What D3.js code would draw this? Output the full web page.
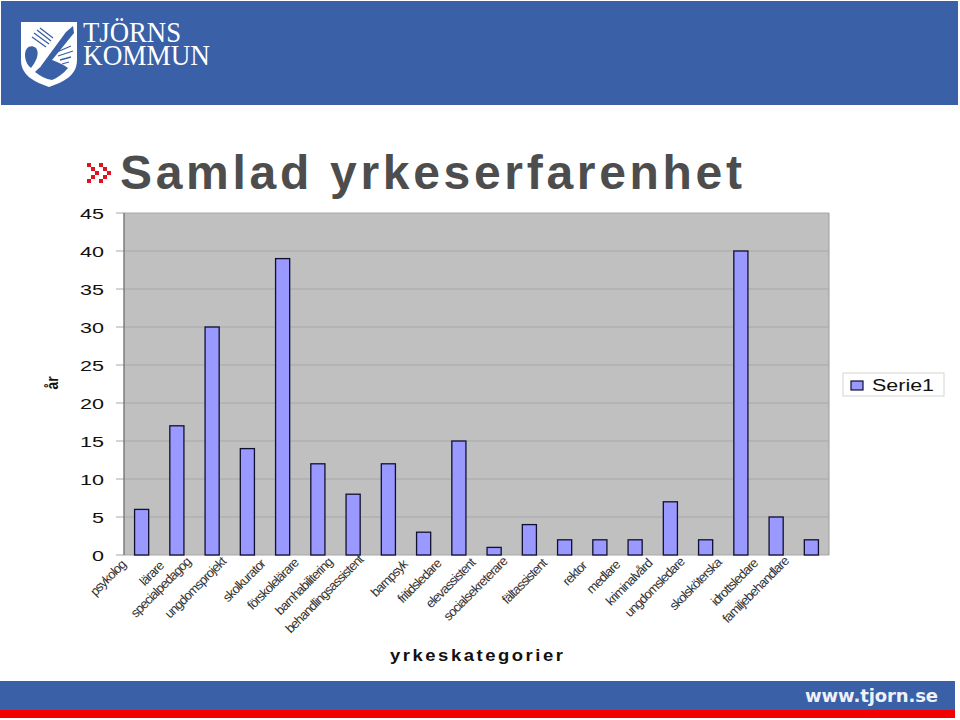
<!DOCTYPE html>
<html>
<head>
<meta charset="utf-8">
<script src="https://cdnjs.cloudflare.com/ajax/libs/d3/7.8.5/d3.min.js"></script>
<style>
  html, body { margin: 0; padding: 0; background: #fff; }
  svg { display: block; }
  text { font-family: "Liberation Sans", Arial, sans-serif; }
</style>
</head>
<body>
<svg class="chart" width="960" height="720"></svg>
<script>
var categories = ["psykolog", "lärare", "specialpedagog", "ungdomsprojekt", "skolkurator",
  "förskolelärare", "barnhabilitering", "behandlingsassistent", "barnpsyk", "fritidsledare",
  "elevassistent", "socialsekreterare", "fältassistent", "rektor", "medlare",
  "kriminalvård", "ungdomsledare", "skolsköterska", "idrottsledare", "familjebehandlare"];
var values = [6, 17, 30, 14, 39, 12, 8, 12, 3, 15, 1, 4, 2, 2, 2, 7, 2, 40, 5, 2];
var yTicks = [0, 5, 10, 15, 20, 25, 30, 35, 40, 45];

var svg = d3.select(".chart");
var blue = "#3a60a8";

// page furniture: header and footer bands
svg.append("rect").attr("x", 1).attr("y", 1).attr("width", 957).attr("height", 104).attr("fill", blue);
svg.append("rect").attr("x", 0).attr("y", 681).attr("width", 955).attr("height", 29).attr("fill", blue);
svg.append("rect").attr("x", 0).attr("y", 710).attr("width", 955).attr("height", 8).attr("fill", "#f50000");

svg.append("text").attr("x", 805).attr("y", 702)
  .attr("font-size", 18).attr("font-weight", "bold")
  .attr("fill", "#eef2f8").style("font-family", "'DejaVu Sans', sans-serif").attr("textLength", 133)
  .text("www.tjorn.se");

// logo
var logo = svg.append("g").attr("transform", "translate(21,22)");
logo.append("path")
  .attr("d", "M0,0 H56 V38 C56,54 42,60 28,65 C14,60 0,54 0,38 Z")
  .attr("fill", "#fff");
logo.append("path")
  .attr("d", "M4,33 C4,25 10,22 15,26 C19,31 15,40 10,46 C6,43 4,38 4,33 Z")
  .attr("fill", blue);
logo.append("path")
  .attr("d", "M14,50 C20,44 26,39 31,38 C37,40 43,43 47,46 C42,52 36,56 31,58 C25,57 19,54 14,50 Z")
  .attr("fill", blue);
logo.append("path")
  .attr("d", "M20,44 L45,10 L52,4 L53,11 L27,43 L23,47 Z")
  .attr("fill", blue);
logo.append("path")
  .attr("d", "M13,11 L28,22 M16,8 L30,19 M19,6 L32,16 M11,15 L25,25 M36,30 L50,24 M37,34 L52,29 M39,38 L50,35 M41,42 L48,40")
  .attr("stroke", blue).attr("stroke-width", 1.3).attr("fill", "none");
svg.append("text").attr("x", 83).attr("y", 42).attr("font-size", 29).attr("fill", "#fff")
  .style("font-family", "'Liberation Serif', serif").attr("textLength", 98).attr("lengthAdjust", "spacingAndGlyphs").text("TJÖRNS");
svg.append("text").attr("x", 83).attr("y", 65).attr("font-size", 29).attr("fill", "#fff")
  .style("font-family", "'Liberation Serif', serif").attr("textLength", 127).attr("lengthAdjust", "spacingAndGlyphs").text("KOMMUN");

// title with the red double chevron, built from little squares
var chevronDots = [[0, 0], [4, 4], [8, 8], [4, 12], [0, 16]];
[89, 101].forEach(function (cx) {
  svg.append("g").selectAll("rect").data(chevronDots).enter().append("rect")
    .attr("x", function (d) { return cx + d[0] - 2; })
    .attr("y", function (d) { return 165 + d[1] - 2; })
    .attr("width", 4).attr("height", 4).attr("fill", "#e01220");
});
svg.append("text").attr("x", 120).attr("y", 189).attr("font-size", 48).attr("font-weight", "bold")
  .attr("fill", "#4d4d4d").attr("textLength", 622).text("Samlad yrkeserfarenhet");

// chart
var x = d3.scaleBand().domain(categories).range([124, 829]).paddingInner(0.6).paddingOuter(0.3);
var y = d3.scaleLinear().domain([0, 45]).range([555, 213]);

svg.append("rect").attr("x", x.range()[0]).attr("y", y(45))
  .attr("width", x.range()[1] - x.range()[0]).attr("height", y(0) - y(45))
  .attr("fill", "#c0c0c0");

// gridlines continue out to the left as tick marks
svg.append("g").selectAll("line").data(yTicks).enter().append("line")
  .attr("x1", 116).attr("x2", 829)
  .attr("y1", function (d) { return y(d); }).attr("y2", function (d) { return y(d); })
  .attr("stroke", "#a8a8a8").attr("stroke-width", 1);

// plot frame: left edge darker than the others
svg.append("line").attr("x1", 124).attr("x2", 124).attr("y1", y(45)).attr("y2", y(0))
  .attr("stroke", "#6e6e6e").attr("stroke-width", 1.3);
svg.append("line").attr("x1", 829).attr("x2", 829).attr("y1", y(45)).attr("y2", y(0))
  .attr("stroke", "#9c9c9c").attr("stroke-width", 1);

// tick labels are stretched wide in the original
svg.append("g").selectAll("text").data(yTicks).enter().append("text")
  .attr("x", 104).attr("y", function (d) { return y(d) + 6; })
  .attr("text-anchor", "end").attr("font-size", 15.5)
  .attr("textLength", function (d) { return d < 10 ? 12 : 24; }).attr("lengthAdjust", "spacingAndGlyphs")
  .attr("fill", "#111").text(function (d) { return d; });

svg.append("g").selectAll("rect").data(values).enter().append("rect")
  .attr("x", function (d, i) { return x(categories[i]); })
  .attr("y", function (d) { return y(d); })
  .attr("width", x.bandwidth())
  .attr("height", function (d) { return y(0) - y(d); })
  .attr("fill", "#9999ff").attr("stroke", "#101030").attr("stroke-width", 1.3);

// slanted category labels, squeezed like the original
// longer labels sit further left of their bar in the original
svg.append("g").selectAll("text").data(categories).enter().append("text")
  .attr("text-anchor", "end").attr("font-size", 13).attr("letter-spacing", -0.9)
  .attr("fill", "#333").text(function (d) { return d; })
  .attr("transform", function (d) {
    var len = this.getComputedTextLength();
    return "translate(" + (x(d) + x.bandwidth() / 2 - 8 - 0.16 * len) + "," + (569 - 0.08 * len) + ") rotate(-45)";
  });

// axis title: wide glyphs plus some spacing, so scale x and space the letters
svg.append("text").attr("transform", "translate(390,661) scale(1.12,1)")
  .attr("font-size", 16.5).attr("font-weight", "bold")
  .attr("textLength", 173 / 1.12)
  .attr("fill", "#111").text("yrkeskategorier");

svg.append("text").attr("transform", "translate(58,383) rotate(-90)").attr("text-anchor", "middle")
  .attr("font-size", 17).attr("font-weight", "bold").attr("textLength", 13).attr("lengthAdjust", "spacingAndGlyphs")
  .attr("fill", "#111").text("år");

// legend
svg.append("rect").attr("x", 843).attr("y", 373).attr("width", 101).attr("height", 23)
  .attr("fill", "#fff").attr("stroke", "#d4d4d4");
svg.append("rect").attr("x", 851).attr("y", 381).attr("width", 12).attr("height", 9)
  .attr("fill", "#9999ff").attr("stroke", "#101030").attr("stroke-width", 1.2);
svg.append("text").attr("x", 872).attr("y", 391).attr("font-size", 16).attr("textLength", 62)
  .attr("lengthAdjust", "spacingAndGlyphs")
  .attr("fill", "#111").text("Serie1");
</script>
</body>
</html>
